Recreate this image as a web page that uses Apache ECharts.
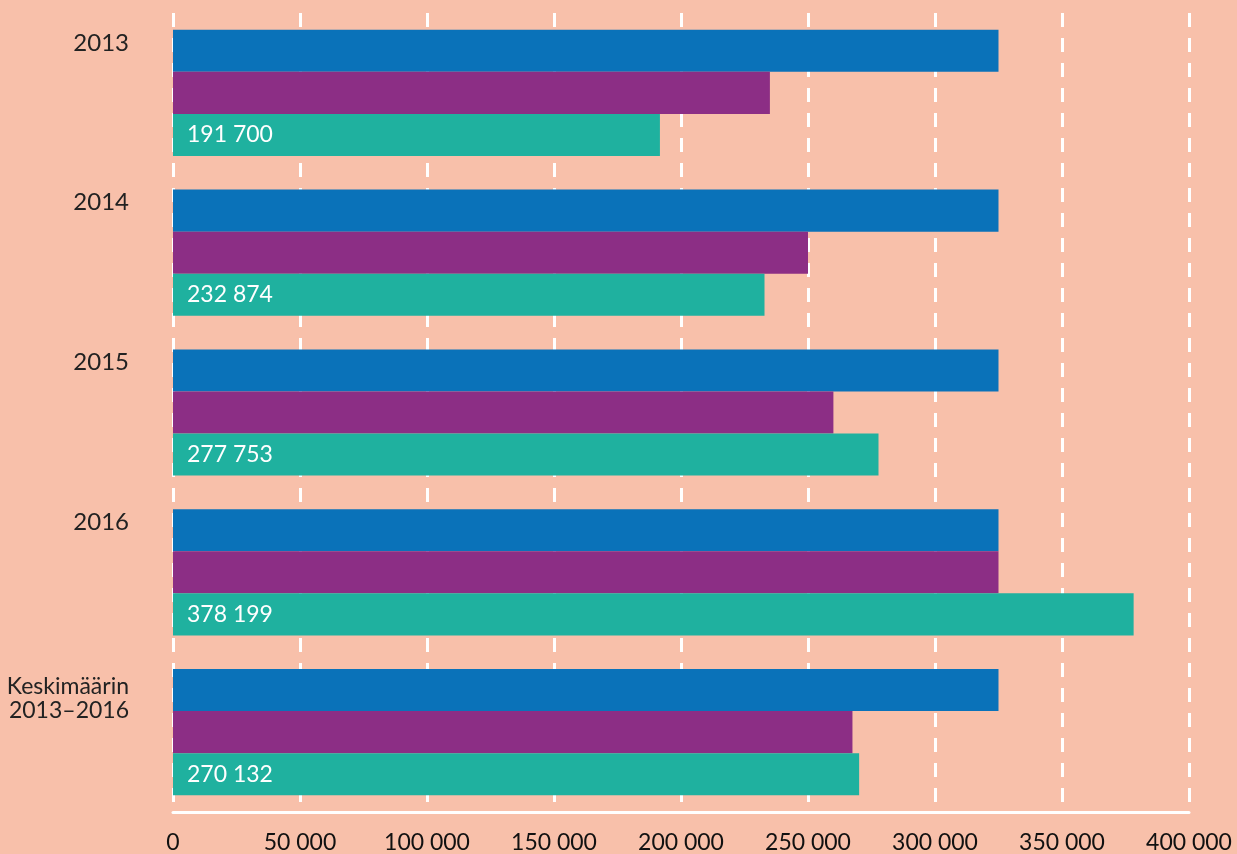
<!DOCTYPE html>
<html>
<head>
<meta charset="utf-8">
<script src="https://cdn.jsdelivr.net/npm/echarts@6/dist/echarts.min.js"></script>
<style>
html,body{margin:0;padding:0;background:#f8c0aa;}
#chart{width:1237px;height:854px;}
</style>
</head>
<body>
<div id="chart"></div>
<script>
const categories = ['2013', '2014', '2015', '2016', 'Keskimäärin\n2013–2016'];
const seriesBlue = [325000, 325000, 325000, 325000, 325000];
const seriesPurple = [235000, 250000, 260000, 325000, 267500];
const seriesGreen = [191700, 232874, 277753, 378199, 270132];
const xTicks = { min: 0, max: 400000, interval: 50000 };

function fmt(v) {
  return String(v).replace(/\B(?=(\d{3})+(?!\d))/g, ' ');
}

const chart = echarts.init(document.getElementById('chart'));
chart.setOption({
  backgroundColor: '#f8c0aa',
  animation: false,
  grid: { left: 173, right: 48, top: 13, bottom: 41, containLabel: false },
  xAxis: {
    type: 'value',
    min: xTicks.min, max: xTicks.max, interval: xTicks.interval,
    axisLine: { show: true, lineStyle: { color: '#ffffff', width: 3 } },
    axisTick: { show: false },
    axisLabel: {
      color: '#111111', fontFamily: 'Lato', fontSize: 23, margin: 19,
      formatter: fmt
    },
    splitLine: {
      show: true,
      lineStyle: { color: '#ffffff', width: 3, type: [14, 11] }
    }
  },
  yAxis: {
    type: 'category',
    inverse: true,
    data: categories,
    axisLine: { show: false },
    axisTick: { show: false },
    axisLabel: {
      margin: 44,
      align: 'right',
      verticalAlign: 'middle',
      padding: [0, 0, 68, 0],
      formatter: function (v) {
        if (v.indexOf('\n') >= 0) {
          return v.split('\n').map(function (s) { return '{k|' + s + '}'; }).join('\n');
        }
        return '{y|' + v + '}';
      },
      rich: {
        y: { fontFamily: 'Lato', fontSize: 24, color: '#222222', padding: [0, 0, 32, 0] },
        k: { fontFamily: 'Lato', fontSize: 23, color: '#222222', lineHeight: 24, align: 'right' }
      }
    }
  },
  series: [
    {
      name: 'Sarja 1', type: 'bar', data: seriesBlue,
      barGap: '0%', barCategoryGap: '21%',
      itemStyle: { color: '#0a72b9' }
    },
    {
      name: 'Sarja 2', type: 'bar', data: seriesPurple,
      itemStyle: { color: '#8c2e85' }
    },
    {
      name: 'Sarja 3', type: 'bar', data: seriesGreen,
      itemStyle: { color: '#1fb19f' },
      label: {
        show: true, position: 'insideLeft', distance: 14,
        color: '#ffffff', fontFamily: 'Lato', fontSize: 23,
        formatter: function (p) { return fmt(p.value); }
      }
    }
  ]
});
</script>
</body>
</html>
